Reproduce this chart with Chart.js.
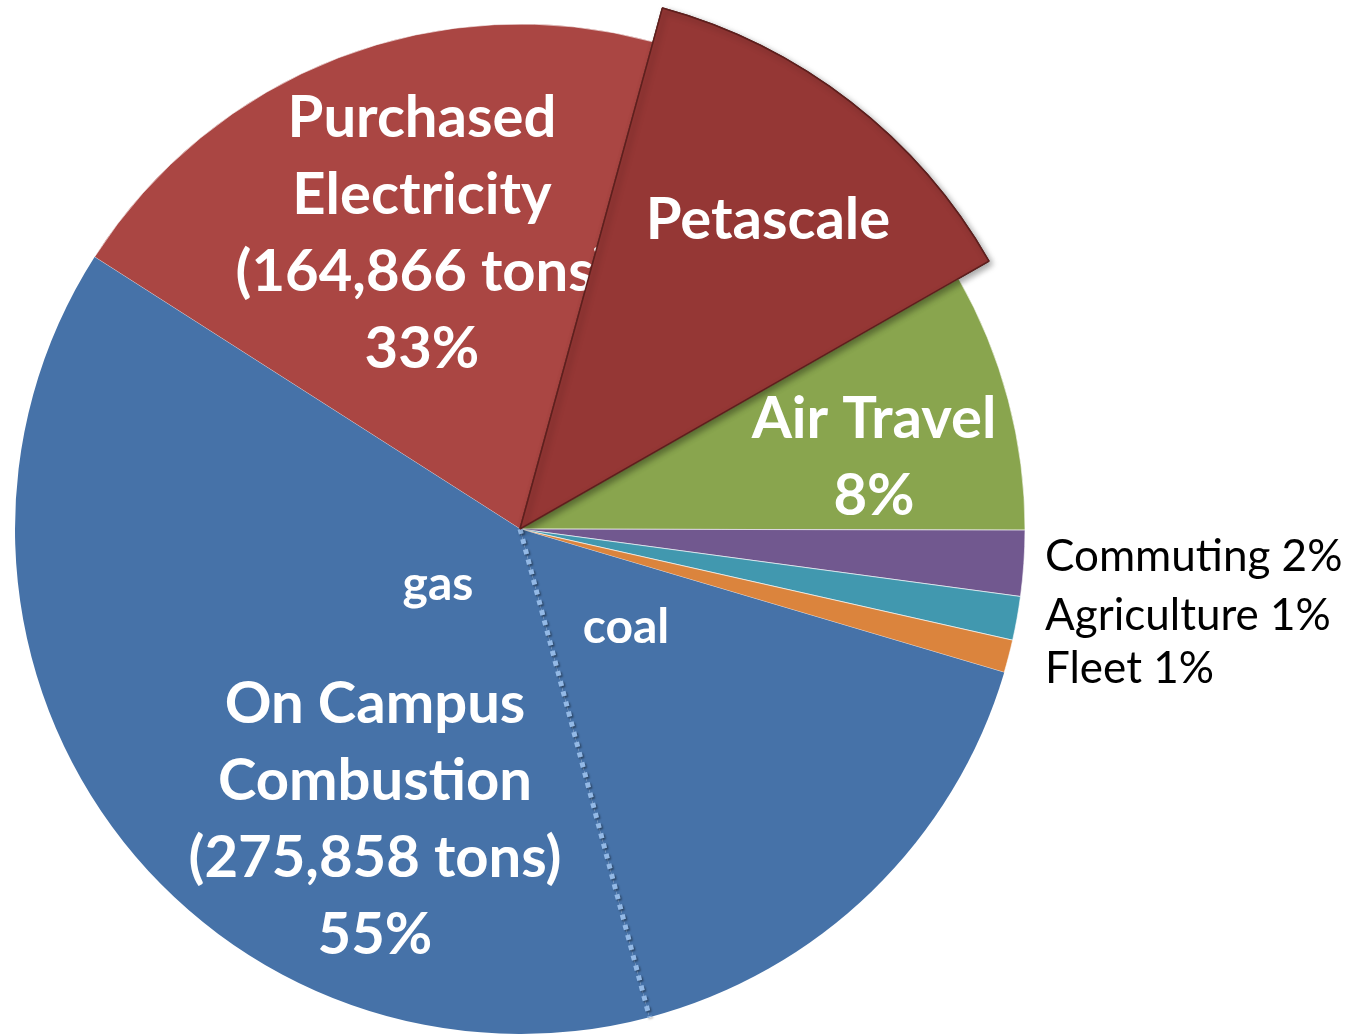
<!DOCTYPE html>
<html>
<head>
<meta charset="utf-8">
<script src="https://cdn.jsdelivr.net/npm/chart.js@4.4.1/dist/chart.umd.min.js"></script>
<style>
  html, body { margin: 0; padding: 0; background: #fff; }
  #wrap { width: 1360px; height: 1034px; position: relative; }
</style>
</head>
<body>
<div id="wrap"><canvas id="emissions"></canvas></div>
<script>
// slices run clockwise, starting at the gas / electricity boundary
const categories = ['Purchased Electricity', 'Petascale', 'Air Travel', 'Commuting', 'Agriculture', 'Fleet', 'coal', 'gas'];
const shares = [20.2, 12.5, 8.3, 2.1, 1.4, 1.05, 16.3, 38.2];
const sliceColors = ['#AA4643', '#953735', '#89A54E', '#71588F', '#4198AF', '#DB843D', '#4672A8', '#4672A8'];

// text on the slices (white, bold) and beside the small ones (black)
const bigLabels = [
  { slice: 0, lines: ['Purchased', 'Electricity', '(164,866 tons)', '33%'] },
  { slice: 1, lines: ['Petascale'] },
  { slice: 2, lines: ['Air Travel', '8%'] },
  { slice: 7, lines: ['On Campus', 'Combustion', '(275,858 tons)', '55%'] }
];
const smallLabels = [
  { slice: 7, text: 'gas' },
  { slice: 6, text: 'coal' }
];
const sideLabels = ['Commuting 2%', 'Agriculture 1%', 'Fleet 1%'];

// placement (offsets from the pie centre), kept apart from the data
const bigPos = { 0: [-98, -392], 1: [248, -290], 2: [354, -91], 7: [-145, 194] };
const smallPos = { 7: [-82, 71], 6: [106, 114] };
const sidePos = [[525, 42], [525, 101], [525, 154]];
const LINE_STEP = 77;
const PETASCALE_RADIUS = 540;

const labelPlugin = {
  id: 'labels',
  afterDatasetsUpdate(chart) {
    // the Petascale slice sticks out past the rest of the pie
    const arc = chart.getDatasetMeta(0).data[1];
    arc.outerRadius = PETASCALE_RADIUS;
  },
  afterDatasetsDraw(chart) {
    const ctx = chart.ctx;
    const arcs = chart.getDatasetMeta(0).data;
    const cx = arcs[0].x, cy = arcs[0].y;

    // dotted split between coal and gas
    const split = arcs[7].startAngle;
    const r = arcs[7].outerRadius;
    ctx.save();
    ctx.strokeStyle = '#93B9E6';
    ctx.lineWidth = 5;
    ctx.setLineDash([5, 5.5]);
    ctx.shadowColor = 'rgba(0,0,0,0.4)';
    ctx.shadowBlur = 2;
    ctx.shadowOffsetX = 1.5;
    ctx.shadowOffsetY = 1.5;
    ctx.beginPath();
    ctx.moveTo(cx, cy);
    ctx.lineTo(cx + Math.cos(split) * r, cy + Math.sin(split) * r);
    ctx.stroke();
    ctx.restore();

    const drawBig = (lab) => {
      const [dx, dy] = bigPos[lab.slice];
      ctx.save();
      ctx.fillStyle = '#fff';
      ctx.font = 'bold 58px Lato';
      ctx.textAlign = 'center';
      ctx.textBaseline = 'alphabetic';
      lab.lines.forEach((t, i) => ctx.fillText(t, cx + dx, cy + dy + i * LINE_STEP));
      ctx.restore();
    };

    // electricity text runs under the raised Petascale slice
    drawBig(bigLabels[0]);
    ctx.save();
    ctx.shadowColor = 'rgba(0,0,0,0.35)';
    ctx.shadowBlur = 6;
    ctx.shadowOffsetX = 3;
    ctx.shadowOffsetY = 3;
    arcs[1].draw(ctx);
    ctx.restore();
    bigLabels.slice(1).forEach(drawBig);

    ctx.save();
    ctx.fillStyle = '#fff';
    ctx.font = 'bold 48px Lato';
    ctx.textAlign = 'center';
    smallLabels.forEach(lab => {
      const [dx, dy] = smallPos[lab.slice];
      ctx.fillText(lab.text, cx + dx, cy + dy);
    });
    ctx.restore();

    ctx.save();
    ctx.fillStyle = '#000';
    ctx.font = '44px Lato';
    ctx.textAlign = 'left';
    sideLabels.forEach((t, i) => ctx.fillText(t, cx + sidePos[i][0], cy + sidePos[i][1]));
    ctx.restore();
  }
};

new Chart(document.getElementById('emissions'), {
  type: 'pie',
  data: {
    labels: categories,
    datasets: [{
      data: shares,
      backgroundColor: sliceColors,
      borderColor: ['rgba(255,255,255,0.6)', '#5E1F1D', 'rgba(255,255,255,0.6)', 'rgba(255,255,255,0.6)',
                    'rgba(255,255,255,0.6)', 'rgba(255,255,255,0.6)', 'rgba(255,255,255,0)', 'rgba(255,255,255,0)'],
      borderWidth: [1, 1.5, 1, 1, 1, 1, 0, 0]
    }]
  },
  options: {
    responsive: true,
    maintainAspectRatio: false,
    animation: false,
    events: [],
    rotation: -57.4,
    radius: 505,
    layout: { padding: { left: 0, right: 320, top: 24, bottom: 0 } },
    plugins: {
      legend: { display: false },
      tooltip: { enabled: false }
    }
  },
  plugins: [labelPlugin]
});
</script>
</body>
</html>
